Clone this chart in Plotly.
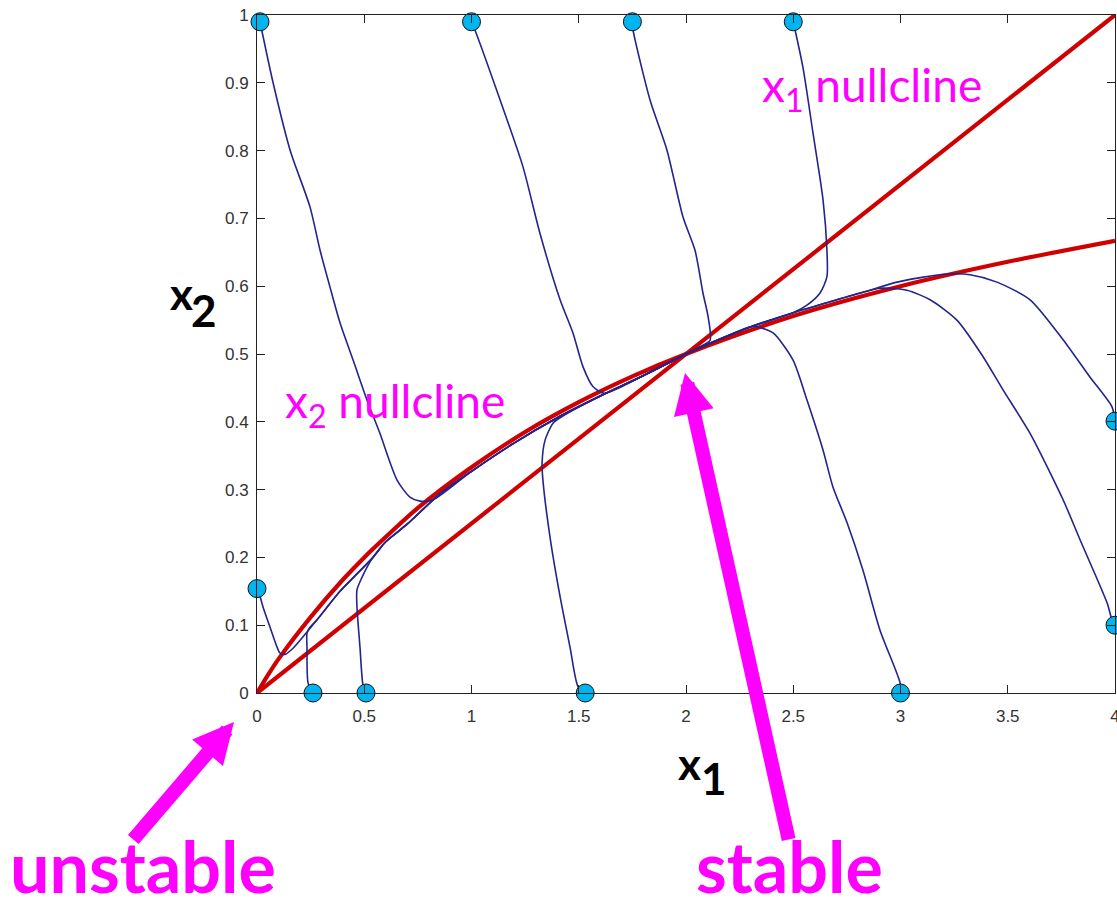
import plotly.graph_objects as go

# ---- nullclines ----
x1_null_x = [0.0, 4.0]
x1_null_y = [0.0, 1.0]

x2_null_x = [0.0, 0.05, 0.1, 0.25, 0.4, 0.5, 0.6, 0.75, 1.0, 1.25, 1.5, 1.75, 2.0, 2.5, 3.0, 3.5, 4.0]
x2_null_y = [0.0, 0.026, 0.050, 0.112, 0.167, 0.200, 0.230, 0.273, 0.333, 0.385, 0.429, 0.467, 0.500,
             0.556, 0.600, 0.636, 0.667]

# slow branches along the x2 nullcline leading into the stable point (2, 0.5)
left_branch_x = [0.6, 0.7, 0.85, 1.0, 1.2, 1.4, 1.6, 1.8, 2.0]
left_branch_y = [0.223, 0.249, 0.293, 0.327, 0.369, 0.406, 0.438, 0.468, 0.500]
right_branch_x = [3.217, 3.1, 2.984, 2.825, 2.671, 2.5, 2.3, 2.15, 2.0]
right_branch_y = [0.618, 0.613, 0.606, 0.591, 0.577, 0.561, 0.540, 0.521, 0.500]

# ---- trajectories (fast approach segments) ----
traj_a_x = [0.014, 0.075, 0.154, 0.247, 0.294, 0.340, 0.387, 0.448, 0.513, 0.573, 0.653, 0.713, 0.760, 0.821]
traj_a_y = [0.990, 0.900, 0.801, 0.717, 0.653, 0.599, 0.546, 0.491, 0.432, 0.383, 0.314, 0.289, 0.283, 0.285]

traj_b_x = [1.0, 1.016, 1.133, 1.240, 1.319, 1.413, 1.473, 1.520, 1.566, 1.62]
traj_b_y = [0.990, 0.978, 0.875, 0.776, 0.678, 0.580, 0.531, 0.481, 0.452, 0.442]

traj_c_x = [1.75, 1.753, 1.832, 1.911, 1.986, 2.042, 2.079, 2.103, 2.112, 2.06, 2.0]
traj_c_y = [0.990, 0.978, 0.875, 0.801, 0.702, 0.653, 0.590, 0.555, 0.520, 0.510, 0.500]

traj_d_x = [2.5, 2.545, 2.592, 2.639, 2.657, 2.657, 2.625, 2.564]
traj_d_y = [0.990, 0.923, 0.826, 0.727, 0.653, 0.614, 0.590, 0.572]

traj_e_x = [4.0, 3.986, 3.883, 3.758, 3.604, 3.450, 3.324, 3.217]
traj_e_y = [0.401, 0.422, 0.466, 0.521, 0.580, 0.606, 0.617, 0.618]

traj_f_x = [4.0, 3.986, 3.963, 3.837, 3.758, 3.604, 3.478, 3.385, 3.263, 3.138, 3.030, 2.904]
traj_f_y = [0.100, 0.108, 0.133, 0.226, 0.285, 0.383, 0.447, 0.496, 0.550, 0.580, 0.594, 0.597]

traj_g_x = [3.0, 2.998, 2.904, 2.825, 2.751, 2.685, 2.639, 2.564, 2.499, 2.406, 2.331]
traj_g_y = [0.0, 0.015, 0.093, 0.181, 0.251, 0.304, 0.358, 0.432, 0.491, 0.531, 0.540]

traj_h_x = [1.53, 1.497, 1.459, 1.413, 1.366, 1.333, 1.329, 1.343, 1.380, 1.413]
traj_h_y = [0.0, 0.009, 0.068, 0.142, 0.230, 0.314, 0.339, 0.373, 0.398, 0.406]

traj_i_x = [0.508, 0.494, 0.480, 0.466, 0.466, 0.490, 0.517, 0.541]
traj_i_y = [0.0, 0.012, 0.068, 0.127, 0.152, 0.171, 0.188, 0.200]

traj_j_x = [0.261, 0.238, 0.233, 0.233, 0.247, 0.280, 0.387, 0.541]
traj_j_y = [0.0, 0.015, 0.068, 0.088, 0.097, 0.108, 0.150, 0.200]

traj_k_x = [0.0, 0.010, 0.028, 0.061, 0.093, 0.107, 0.131, 0.168, 0.233, 0.280, 0.387, 0.541]
traj_k_y = [0.154, 0.147, 0.127, 0.097, 0.068, 0.059, 0.057, 0.066, 0.090, 0.108, 0.150, 0.200]

# initial conditions
start_x = [0.014, 1.0, 1.75, 2.5, 4.0, 4.0, 3.0, 1.53, 0.508, 0.261, 0.0]
start_y = [0.990, 0.990, 0.990, 0.990, 0.401, 0.100, 0.0, 0.0, 0.0, 0.0, 0.154]

x_tick_vals = [0, 0.5, 1, 1.5, 2, 2.5, 3, 3.5, 4]
y_tick_vals = [0, 0.1, 0.2, 0.3, 0.4, 0.5, 0.6, 0.7, 0.8, 0.9, 1]

RED = "#D00000"
BLUE = "#24248C"
MAGENTA = "#FF00FF"
CYAN = "#00B4F0"


def with_left(xs, ys):
    """Continue a trajectory along the lower-left slow branch."""
    tx = [x for x in left_branch_x if x > xs[-1] + 0.03]
    ty = [y for x, y in zip(left_branch_x, left_branch_y) if x > xs[-1] + 0.03]
    return xs + tx, ys + ty


def with_right(xs, ys):
    """Continue a trajectory along the upper-right slow branch."""
    tx = [x for x in right_branch_x if x < xs[-1] - 0.03]
    ty = [y for x, y in zip(right_branch_x, right_branch_y) if x < xs[-1] - 0.03]
    return xs + tx, ys + ty


trajectories = [
    with_left(traj_a_x, traj_a_y),
    with_left(traj_b_x, traj_b_y),
    (traj_c_x, traj_c_y),
    with_right(traj_d_x, traj_d_y),
    with_right(traj_e_x, traj_e_y),
    with_right(traj_f_x, traj_f_y),
    with_right(traj_g_x, traj_g_y),
    with_left(traj_h_x, traj_h_y),
    with_left(traj_i_x, traj_i_y),
    with_left(traj_j_x, traj_j_y),
    with_left(traj_k_x, traj_k_y),
]

fig = go.Figure()

fig.add_trace(go.Scatter(x=x1_null_x, y=x1_null_y, mode="lines",
                         line=dict(color=RED, width=4.2), hoverinfo="skip"))
fig.add_trace(go.Scatter(x=x2_null_x, y=x2_null_y, mode="lines",
                         line=dict(color=RED, width=4.2, shape="spline", smoothing=0.8),
                         hoverinfo="skip"))

for tx, ty in trajectories:
    fig.add_trace(go.Scatter(x=tx, y=ty, mode="lines",
                             line=dict(color=BLUE, width=1.6, shape="spline", smoothing=0.7),
                             hoverinfo="skip"))

fig.add_trace(go.Scatter(x=start_x, y=start_y, mode="markers", cliponaxis=False,
                         marker=dict(size=18, color=CYAN, line=dict(color="#111111", width=1))))

axis_common = dict(
    showgrid=False, zeroline=False, showline=True, linecolor="#222222", linewidth=1,
    mirror="ticks", ticks="inside", ticklen=8, tickwidth=1, tickcolor="#222222",
    ticklabeloverflow="allow", automargin=False,
    tickfont=dict(family="Liberation Sans, Arial, sans-serif", size=17, color="#333333"),
)

fig.update_layout(
    width=1117, height=902,
    margin=dict(l=257, r=2, t=15, b=209),
    paper_bgcolor="white", plot_bgcolor="white",
    showlegend=False,
    xaxis=dict(range=[0, 4], tickvals=x_tick_vals, ticklabelstandoff=8, **axis_common),
    yaxis=dict(range=[0, 1], tickvals=y_tick_vals, ticklabelstandoff=4, **axis_common),
)

label_font = dict(family="Lato, sans-serif", size=46, color=MAGENTA)
bold_magenta = dict(family="Lato, sans-serif", size=70, color=MAGENTA, weight="bold")
axis_title_font = dict(family="Lato, sans-serif", size=44, color="black", weight="bold")


def px_x(p):
    return (p - 257) / 858


def px_y(p):
    return (693 - p) / 678


annotations = [
    dict(text="x<sub>1</sub> nullcline", x=2.345, y=0.892, xref="x", yref="y",
         xanchor="left", yanchor="middle", showarrow=False, font=label_font),
    dict(text="x<sub>2</sub> nullcline", x=0.121, y=0.426, xref="x", yref="y",
         xanchor="left", yanchor="middle", showarrow=False, font=label_font),
    dict(text="unstable", x=px_x(8), y=px_y(866), xref="paper", yref="paper",
         xanchor="left", yanchor="middle", showarrow=False, font=bold_magenta),
    dict(text="stable", x=px_x(694), y=px_y(866), xref="paper", yref="paper",
         xanchor="left", yanchor="middle", showarrow=False, font=bold_magenta),
    # axis titles
    dict(text="x", x=px_x(181.5), y=px_y(293), xref="paper", yref="paper",
         xanchor="center", yanchor="middle", showarrow=False, font=axis_title_font),
    dict(text="2", x=px_x(203.5), y=px_y(310), xref="paper", yref="paper",
         xanchor="center", yanchor="middle", showarrow=False, font=axis_title_font),
    dict(text="x", x=px_x(689.5), y=px_y(763), xref="paper", yref="paper",
         xanchor="center", yanchor="middle", showarrow=False, font=axis_title_font),
    dict(text="1", x=px_x(713.5), y=px_y(778), xref="paper", yref="paper",
         xanchor="center", yanchor="middle", showarrow=False, font=axis_title_font),
    # arrows to the equilibria
    dict(text="", x=px_x(234), y=px_y(722), xref="paper", yref="paper", showarrow=True,
         ax=-102, ay=119, arrowhead=2, arrowsize=0.58, arrowwidth=14, arrowcolor=MAGENTA, standoff=0),
    dict(text="", x=px_x(685), y=px_y(373), xref="paper", yref="paper", showarrow=True,
         ax=104, ay=468, arrowhead=2, arrowsize=0.58, arrowwidth=14, arrowcolor=MAGENTA, standoff=0),
]
fig.update_layout(annotations=annotations)

fig.write_html("out.html")
